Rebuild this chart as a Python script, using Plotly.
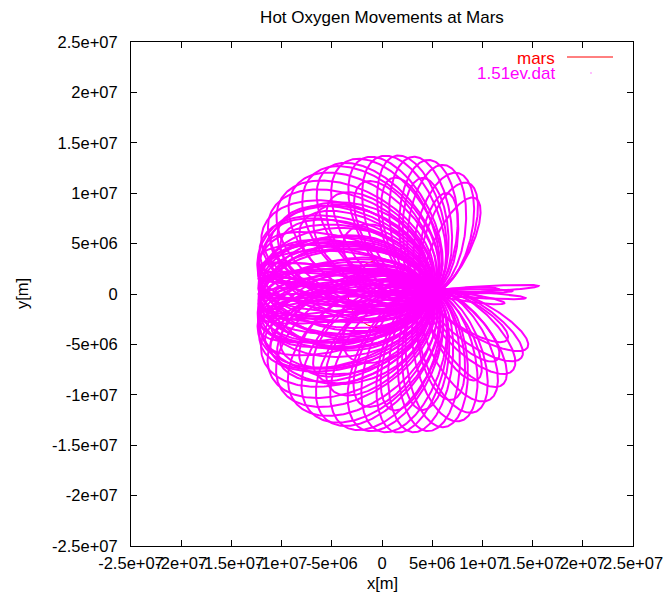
import numpy as np
import plotly.graph_objects as go

# Axis ticks (metres) and their gnuplot-style labels
tick_vals = [-2.5e7, -2e7, -1.5e7, -1e7, -5e6, 0, 5e6, 1e7, 1.5e7, 2e7, 2.5e7]
tick_text = ["-2.5e+07", "-2e+07", "-1.5e+07", "-1e+07", "-5e+06", "0",
             "5e+06", "1e+07", "1.5e+07", "2e+07", "2.5e+07"]

MARS_RADIUS = 3.39e6  # m

# Common launch point of the ion loops (units of 1e6 m)
launch_x = 4.7
launch_y = 0.2

# Each loop: far point (1e6 m) and width/length ratio
loop_far_x = [
    # thin spikes to the right
    15.6, 14.3, 13.0, 11.6, 10.0, 12.2,
    # upper envelope, left to right
    -12.1, -11.8, -11.0, -10.0, -8.6, -7.0, -5.5, -3.8, -2.0, -0.3, 1.3, 3.0, 4.6, 6.2, 7.6, 8.6, 9.3,
    # upper interior
    -8.0, -5.0, -2.0, 1.0, 4.0, 6.5, -10.0, -6.5, -11.0, -3.5,
    # band to the left
    -12.3, -12.3, -12.3, -12.3, -12.3, -12.3, -12.3, -12.3, -12.3,
    -12.3, -12.3, -12.3, -12.3, -12.3, -12.3, -12.3, -12.3,
    -12.2, -12.2, -12.2, -12.2, -12.2, -12.2, -12.2,
    -12.2, -12.2, -12.2, -12.2, -12.2, -12.2, -12.2,
    -11.6, -11.0, -10.2, -11.6, -11.0, -10.2,
    -12.1, -12.1, -12.1, -12.1, -12.1, -12.1,
    # lower envelope, left to right
    -12.1, -11.8, -11.0, -10.0, -8.6, -7.0, -5.5, -3.8, -2.0, -0.3, 1.3, 3.0, 4.6, 6.2,
    7.8, 9.3, 10.7, 12.0, 13.0, 13.9, 14.5,
    # lower interior
    -8.0, -5.0, -2.0, 1.0, 4.0, 7.0, 9.5, 11.5, 12.5, -10.0, -6.5, -11.0, -3.5,
]
loop_far_y = [
    0.8, -0.4, 0.3, 0.5, -0.3, -0.9,
    5.0, 6.6, 8.2, 9.5, 10.7, 11.7, 12.4, 13.0, 13.4, 13.6, 13.7, 13.6, 13.3, 12.8, 12.0, 11.0, 9.5,
    7.0, 9.5, 11.0, 11.5, 11.5, 10.0, 5.5, 8.0, 3.5, 6.0,
    4.0, 3.5, 3.0, 2.5, 2.0, 1.5, 1.0, 0.5, 0.0,
    -0.5, -1.0, -1.5, -2.0, -2.5, -3.0, -3.5, -4.0,
    2.8, 2.2, 1.6, 0.9, 0.3, -0.3, -0.9,
    -1.6, -2.2, -2.8, 3.3, -3.3, 1.2, -1.2,
    4.8, 5.8, 6.8, -4.8, -5.8, -6.8,
    2.0, 1.0, 0.0, -1.0, -2.0, 0.6,
    -5.0, -6.6, -8.2, -9.5, -10.8, -11.8, -12.5, -13.1, -13.4, -13.6, -13.7, -13.7, -13.6, -13.2,
    -12.6, -11.7, -10.5, -9.0, -7.6, -6.3, -5.3,
    -7.0, -9.5, -11.0, -11.5, -11.5, -10.5, -8.5, -6.5, -4.5, -5.5, -8.0, -3.5, -6.0,
]
loop_width = [
    0.05, 0.06, 0.05, 0.07, 0.08, 0.10,
    0.55, 0.60, 0.60, 0.60, 0.60, 0.60, 0.55, 0.55, 0.50, 0.50, 0.45, 0.45, 0.45, 0.45, 0.45, 0.40, 0.35,
    0.50, 0.50, 0.45, 0.40, 0.40, 0.35, 0.50, 0.50, 0.40, 0.60,
    0.75, 0.30, 0.60, 0.15, 0.45, 0.05, 0.70, 0.25, 0.10,
    0.55, 0.20, 0.65, 0.08, 0.40, 0.75, 0.30, 0.60,
    0.12, 0.35, 0.50, 0.20, 0.65, 0.03, 0.28,
    0.48, 0.18, 0.38, 0.85, 0.85, 0.58, 0.58,
    0.35, 0.45, 0.55, 0.35, 0.45, 0.55,
    0.08, 0.22, 0.33, 0.42, 0.14, 0.52,
    0.55, 0.60, 0.60, 0.60, 0.60, 0.60, 0.55, 0.55, 0.50, 0.50, 0.45, 0.45, 0.45, 0.45,
    0.45, 0.45, 0.45, 0.40, 0.40, 0.35, 0.30,
    0.50, 0.50, 0.45, 0.40, 0.40, 0.40, 0.35, 0.35, 0.30, 0.50, 0.50, 0.40, 0.60,
]


def loop_path(fx, fy, w, n=240):
    """Closed loop leaving the launch point, turning at (fx, fy) and returning."""
    x0, y0 = launch_x, launch_y
    dx, dy = fx - x0, fy - y0
    length = np.hypot(dx, dy)
    ux, uy = dx / length, dy / length
    a = length / 2.0
    b = w * length / 2.0
    t = np.linspace(0, 2 * np.pi, n)
    u = a - a * np.cos(t)        # along the major axis, 0 at launch point
    v = b * np.sin(t)            # across
    xs = x0 + u * ux - v * uy
    ys = y0 + u * uy + v * ux
    return xs * 1e6, ys * 1e6


traj_x, traj_y = [], []
for fx, fy, w in zip(loop_far_x, loop_far_y, loop_width):
    xs, ys = loop_path(fx, fy, w)
    traj_x.extend(xs.tolist() + [None])
    traj_y.extend(ys.tolist() + [None])

theta = np.linspace(0, 2 * np.pi, 361)
mars_x = MARS_RADIUS * np.cos(theta)
mars_y = MARS_RADIUS * np.sin(theta)

fig = go.Figure()
fig.add_trace(go.Scatter(x=mars_x, y=mars_y, mode="lines",
                         line=dict(color="#ff0000", width=1),
                         name="mars", showlegend=False))
fig.add_trace(go.Scatter(x=traj_x, y=traj_y, mode="lines",
                         line=dict(color="#ff00ff", width=2),
                         name="1.51ev.dat", showlegend=False))

FONT = "Liberation Sans, Arial, Helvetica, sans-serif"
axis_common = dict(
    range=[-2.5e7, 2.5e7], tickvals=tick_vals, ticktext=tick_text,
    ticks="inside", ticklen=6, tickcolor="black", tickwidth=1,
    showline=True, linecolor="black", linewidth=1, mirror="allticks",
    showgrid=False, zeroline=False, automargin=False, tickangle=0,
    tickfont=dict(family=FONT, size=16.5, color="black"),
)

# Plot-area geometry in pixels, used to place the hand-built legend
L, R, T, B = 131, 633, 42, 546
PW, PH = R - L, B - T


def px(x):
    return (x - L) / PW


def py(y):
    return (B - y) / PH


fig.update_layout(
    width=666, height=606,
    margin=dict(l=L, r=666 - R, t=T, b=606 - B),
    paper_bgcolor="white", plot_bgcolor="white",
    showlegend=False,
    xaxis=dict(axis_common, ticklabelstandoff=2),
    yaxis=dict(axis_common, ticklabelstandoff=9),
    title=dict(text="Hot Oxygen Movements at Mars", x=0.5, xanchor="center",
               xref="paper", y=1 - 17 / 606, yanchor="middle",
               font=dict(family=FONT, size=17, color="black")),
    annotations=[
        dict(text="x[m]", xref="paper", yref="paper", x=0.5, y=py(583),
             showarrow=False, xanchor="center", yanchor="middle",
             font=dict(family=FONT, size=16.5, color="black")),
        dict(text="y[m]", xref="paper", yref="paper", x=px(22), y=0.5,
             textangle=-90, showarrow=False, xanchor="center", yanchor="middle",
             font=dict(family=FONT, size=16.5, color="black")),
        dict(text="mars", xref="paper", yref="paper", x=px(557), y=py(58),
             showarrow=False, xanchor="right", yanchor="middle",
             font=dict(family=FONT, size=17, color="#ff0000")),
        dict(text="1.51ev.dat", xref="paper", yref="paper", x=px(557), y=py(73),
             showarrow=False, xanchor="right", yanchor="middle",
             font=dict(family=FONT, size=17, color="#ff00ff")),
    ],
    shapes=[
        dict(type="line", xref="paper", yref="paper",
             x0=px(567), x1=px(613), y0=py(57), y1=py(57),
             line=dict(color="#ff0000", width=1)),
        dict(type="rect", xref="paper", yref="paper",
             x0=px(590.5), x1=px(591.5), y0=py(73.5), y1=py(72.5),
             line=dict(width=0), fillcolor="#ff00ff"),
    ],
)

fig.write_html("out.html")
